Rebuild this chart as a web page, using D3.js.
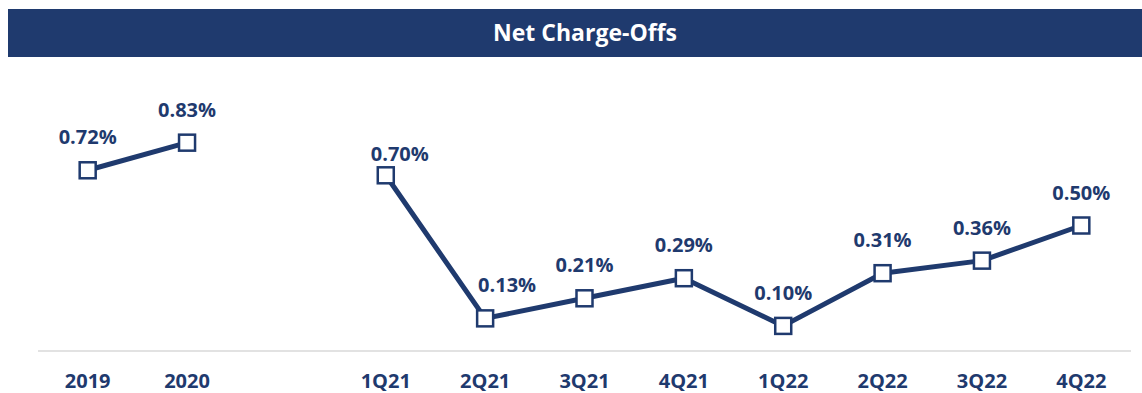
<!DOCTYPE html>
<html>
<head>
<meta charset="utf-8">
<script src="https://cdn.jsdelivr.net/npm/d3@7"></script>
<style>
  html, body { margin: 0; padding: 0; background: #fff; }
  svg { display: block; }
</style>
</head>
<body>
<svg id="chart" width="1142" height="393"></svg>
<script>
// Net charge-off rates: two annual points, then eight quarters
const categories = ["2019", "2020", "", "1Q21", "2Q21", "3Q21", "4Q21", "1Q22", "2Q22", "3Q22", "4Q22"];
const annualLabels = ["2019", "2020"];
const annualValues = [0.72, 0.83];
const quarterLabels = ["1Q21", "2Q21", "3Q21", "4Q21", "1Q22", "2Q22", "3Q22", "4Q22"];
const quarterValues = [0.70, 0.13, 0.21, 0.29, 0.10, 0.31, 0.36, 0.50];
const title = "Net Charge-Offs";

const navy = "#1f3a6e";
const font = "'Open Sans', sans-serif";
const W = 1142;
const svg = d3.select("#chart");

// Label placement tweaks so value labels clear the steep segment
const labelShift = { "1Q21": [14, 12], "2Q21": [22, 0] };

// Title banner
svg.append("rect").attr("x", 8).attr("y", 9).attr("width", W - 8).attr("height", 48).attr("fill", navy);
svg.append("text").attr("x", 585).attr("y", 33).attr("dy", "0.35em")
  .attr("text-anchor", "middle").attr("fill", "#fff")
  .attr("font-family", font).attr("font-weight", 700).attr("font-size", 23)
  .text(title);

const x = d3.scaleBand().domain(categories).range([38, 1131]);
const y = d3.scaleLinear().domain([0, 1]).range([351, 100]);

// Baseline
svg.append("line").attr("x1", 38).attr("x2", 1131).attr("y1", y(0)).attr("y2", y(0))
  .attr("stroke", "#d9d9d9").attr("stroke-width", 1.5);

// Category axis
const axis = d3.axisBottom(x).tickSize(0).tickPadding(0);
const gAxis = svg.append("g").attr("transform", `translate(0,${y(0)})`).call(axis);
gAxis.select(".domain").remove();
gAxis.selectAll("text")
  .attr("y", 30).attr("dy", "0.35em")
  .attr("fill", navy).attr("font-family", font).attr("font-weight", 700).attr("font-size", 20);

const cx = d => x(d) + x.bandwidth() / 2;
const line = d3.line().x(d => cx(d.k)).y(d => y(d.v));

const series = [
  annualLabels.map((k, i) => ({ k, v: annualValues[i] })),
  quarterLabels.map((k, i) => ({ k, v: quarterValues[i] }))
];

series.forEach(data => {
  svg.append("path").datum(data).attr("d", line)
    .attr("fill", "none").attr("stroke", navy).attr("stroke-width", 5)
    .attr("stroke-linejoin", "round");

  svg.selectAll(null).data(data).enter().append("rect")
    .attr("x", d => cx(d.k) - 8).attr("y", d => y(d.v) - 8)
    .attr("width", 16).attr("height", 16)
    .attr("fill", "#fff").attr("stroke", navy).attr("stroke-width", 2.5);

  svg.selectAll(null).data(data).enter().append("text")
    .attr("x", d => cx(d.k) + (labelShift[d.k] ? labelShift[d.k][0] : 0))
    .attr("y", d => y(d.v) - 33 + (labelShift[d.k] ? labelShift[d.k][1] : 0))
    .attr("dy", "0.35em")
    .attr("text-anchor", "middle").attr("fill", navy)
    .attr("font-family", font).attr("font-weight", 700).attr("font-size", 20)
    .text(d => d.v.toFixed(2) + "%");
});
</script>
</body>
</html>
